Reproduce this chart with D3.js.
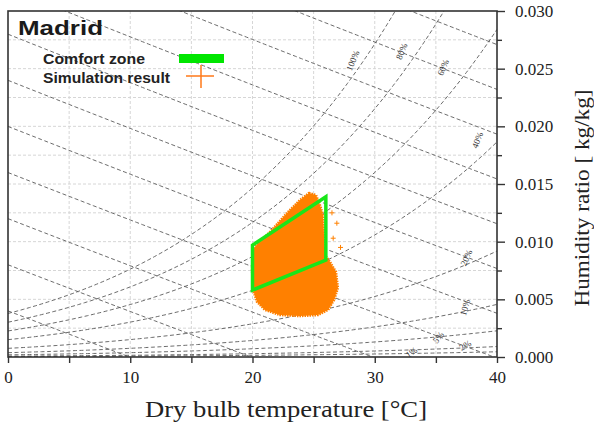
<!DOCTYPE html>
<html>
<head>
<meta charset="utf-8">
<script src="https://cdn.jsdelivr.net/npm/d3@7"></script>
<style>
  body { margin: 0; background: #fff; }
  svg { display: block; }
</style>
</head>
<body>
<svg id="chart" width="594" height="426"></svg>
<script>
// --- data ---
var tempTicks = [0, 10, 20, 30, 40];
var tempMinor = [5, 15, 25, 35];
var humTicks = [0, 0.005, 0.010, 0.015, 0.020, 0.025, 0.030];
var humMinor = [0.0025, 0.0075, 0.0125, 0.0175, 0.0225, 0.0275];

var rhLevels = [1, 2, 5, 10, 20, 40, 60, 80, 100];          // % relative humidity curves
var rhLabelT = [33.0, 37.4, 35.2, 37.4, 37.5, 38.4, 35.6, 32.2, 28.2];
var rhLabelW = [0.0004, 0.0010, 0.0017, 0.0043, 0.0086, 0.0188, 0.0251, 0.0265, 0.0257];
var rhLabelAngle = [-34, -30, -52, -74, -66, -68, -67, -67, -67];

var enthalpyLevels = [10, 20, 30, 40, 50, 60, 70, 80, 90, 100, 110]; // kJ/kg

// comfort zone corners (dry bulb, humidity ratio)
var comfortT = [20, 20, 26, 26];
var comfortW = [0.0058, 0.0097, 0.0139, 0.0084];

// outline of the simulation result cloud
var cloudT = [24.62, 25.19, 25.52, 25.77, 25.85, 25.93, 26.34, 26.83, 26.99, 26.67, 26.18, 25.36,
              23.89, 22.25, 21.02, 20.37, 20.04, 19.96, 20.04, 20.45, 21.43, 22.90, 23.89];
var cloudW = [0.01422, 0.01405, 0.01318, 0.01231, 0.01058, 0.00884, 0.00824, 0.00737, 0.00598, 0.00494, 0.00408, 0.00364,
              0.00355, 0.00364, 0.00408, 0.00477, 0.00581, 0.00754, 0.00928, 0.00988, 0.01084, 0.01257, 0.01361];
// stray points outside the cloud
var strayT = [26.5, 26.9, 27.2, 26.6];
var strayW = [0.0125, 0.0116, 0.0095, 0.0103];


// --- psychrometrics ---
var P = 101.325;
function pws (t) { return 0.61094 * Math.exp(17.625 * t / (t + 243.04)); }
function wRh (t, rh) { var p = rh / 100 * pws(t); return 0.622 * p / (P - p); }
function wEnthalpy (t, h) { return (h - 1.006 * t) / (2501 + 1.86 * t); }


var svg = d3.select("#chart");
var m = { left: 8, right: 497, top: 11, bottom: 357 };

var x = d3.scaleLinear().domain([0, 40]).range([m.left, m.right]);
var y = d3.scaleLinear().domain([0, 0.030]).range([m.bottom, m.top]);

svg.append("defs").append("clipPath").attr("id", "plot")
  .append("rect").attr("x", m.left).attr("y", m.top)
  .attr("width", m.right - m.left).attr("height", m.bottom - m.top);

var plot = svg.append("g").attr("clip-path", "url(#plot)");

// grid
plot.selectAll(".vgrid").data(tempMinor.concat([10, 20, 30])).enter().append("line")
  .attr("x1", d => x(d)).attr("x2", d => x(d)).attr("y1", m.top).attr("y2", m.bottom)
  .attr("stroke", "#d6d6d6").attr("stroke-dasharray", "3,2");
plot.selectAll(".hgrid").data(humMinor.concat([0.005, 0.010, 0.015, 0.020, 0.025])).enter().append("line")
  .attr("y1", d => y(d)).attr("y2", d => y(d)).attr("x1", m.left).attr("x2", m.right)
  .attr("stroke", "#d6d6d6").attr("stroke-dasharray", "3,2");

var temps = d3.range(0, 40.01, 0.25);
var line = d3.line().x(d => x(d[0])).y(d => y(d[1]));

// enthalpy lines
plot.selectAll(".hline").data(enthalpyLevels).enter().append("path")
  .attr("d", h => line(temps.map(t => [t, wEnthalpy(t, h)]).filter(d => d[1] > -0.002 && d[1] < 0.033)))
  .attr("fill", "none").attr("stroke", "#5a5a5a").attr("stroke-width", 0.9).attr("stroke-dasharray", "4,2.5");

// relative humidity curves
plot.selectAll(".rh").data(rhLevels).enter().append("path")
  .attr("d", rh => line(temps.map(t => [t, wRh(t, rh)]).filter(d => d[1] < 0.035)))
  .attr("fill", "none").attr("stroke", "#5a5a5a").attr("stroke-width", 0.9).attr("stroke-dasharray", "4,2.5");

plot.selectAll(".rhlabel").data(rhLevels).enter().append("text")
  .attr("transform", (d, i) => "translate(" + x(rhLabelT[i]) + "," + y(rhLabelW[i]) + ") rotate(" + rhLabelAngle[i] + ")")
  .attr("text-anchor", "middle").attr("dominant-baseline", "central")
  .attr("font-family", "Liberation Serif, serif").attr("font-size", 9).attr("fill", "#333")
  .text(d => d + "%");

// simulation result cloud
var cloud = cloudT.map((t, i) => [t, cloudW[i]]);
plot.append("path").attr("d", line(cloud) + "Z")
  .attr("fill", "#ff8000").attr("stroke", "#ff8000").attr("stroke-width", 2.5)
  .attr("stroke-dasharray", "1.5,1").attr("stroke-linejoin", "round");

plot.selectAll(".stray").data(strayT).enter().append("path")
  .attr("d", (t, i) => "M" + (x(t) - 2.5) + "," + y(strayW[i]) + "h5M" + x(t) + "," + (y(strayW[i]) - 2.5) + "v5")
  .attr("stroke", "#ff8000").attr("stroke-width", 1);

// comfort zone
var comfort = comfortT.map((t, i) => [t, comfortW[i]]);
plot.append("path").attr("d", line(comfort) + "Z")
  .attr("fill", "none").attr("stroke", "#19e619").attr("stroke-width", 3.5).attr("stroke-linejoin", "miter");

// frame
svg.append("rect").attr("x", m.left).attr("y", m.top)
  .attr("width", m.right - m.left).attr("height", m.bottom - m.top)
  .attr("fill", "none").attr("stroke", "#333").attr("stroke-width", 1.6);

// axes
var serif = "Liberation Serif, Times New Roman, serif";

var xAxis = svg.append("g").attr("transform", "translate(0," + m.bottom + ")")
  .call(d3.axisBottom(x).tickValues(tempTicks.concat(tempMinor)).tickSize(6).tickFormat(d => tempTicks.includes(d) ? d : ""));
xAxis.select(".domain").remove();
xAxis.selectAll("line").attr("stroke", "#333").attr("stroke-width", 1.4);
xAxis.selectAll("text").attr("font-family", serif).attr("font-size", 17).attr("fill", "#222").attr("dy", null).attr("y", 26);

var yAxis = svg.append("g").attr("transform", "translate(" + m.right + ",0)")
  .call(d3.axisRight(y).tickValues(humTicks.concat(humMinor)).tickSize(7).tickFormat(d => humTicks.includes(d) ? d3.format(".3f")(d) : ""));
yAxis.select(".domain").remove();
yAxis.selectAll("line").attr("stroke", "#333").attr("stroke-width", 1.4)
  .attr("x2", d => humTicks.includes(d) ? 8 : 5);
yAxis.selectAll("text").attr("font-family", serif).attr("font-size", 17).attr("fill", "#222").attr("x", 18);

// axis titles
svg.append("text").attr("x", 145).attr("y", 417)
  .attr("font-family", serif).attr("font-size", 23).attr("fill", "#222")
  .attr("textLength", 282).attr("lengthAdjust", "spacingAndGlyphs")
  .text("Dry bulb temperature [°C]");

svg.append("text").attr("transform", "translate(589,198) rotate(-90)")
  .attr("text-anchor", "middle")
  .attr("font-family", serif).attr("font-size", 21).attr("fill", "#222")
  .attr("textLength", 217).attr("lengthAdjust", "spacingAndGlyphs")
  .text("Humidity ratio  [ kg/kg]");

// title + legend
var sans = "Liberation Sans, Arial, sans-serif";
svg.append("text").attr("x", 18).attr("y", 35)
  .attr("font-family", sans).attr("font-size", 21).attr("font-weight", "bold").attr("fill", "#1a1a1a")
  .attr("textLength", 85).attr("lengthAdjust", "spacingAndGlyphs")
  .text("Madrid");

svg.append("text").attr("x", 43).attr("y", 64)
  .attr("font-family", sans).attr("font-size", 15).attr("font-weight", "bold").attr("fill", "#222")
  .attr("textLength", 102).attr("lengthAdjust", "spacingAndGlyphs")
  .text("Comfort zone");
svg.append("text").attr("x", 43).attr("y", 83)
  .attr("font-family", sans).attr("font-size", 15).attr("font-weight", "bold").attr("fill", "#222")
  .attr("textLength", 127).attr("lengthAdjust", "spacingAndGlyphs")
  .text("Simulation result");

svg.append("rect").attr("x", 179).attr("y", 54).attr("width", 45).attr("height", 9).attr("fill", "#00e600");
svg.append("path").attr("d", "M186,76h28M201,65v23").attr("stroke", "#ff7a1a").attr("stroke-width", 1.5);
</script>
</body>
</html>
